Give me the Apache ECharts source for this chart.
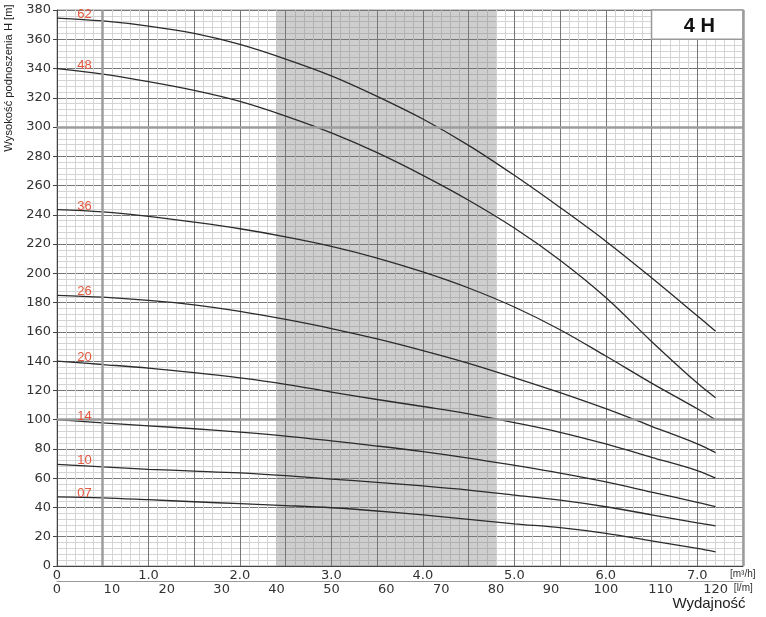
<!DOCTYPE html>
<html>
<head>
<meta charset="utf-8">
<script src="https://cdn.jsdelivr.net/npm/echarts@6/dist/echarts.min.js"></script>
<style>html,body{margin:0;padding:0;background:#fff}#c{width:766px;height:617px}</style>
</head>
<body>
<div id="c"></div>
<script>
// Flow points (m³/h) at which heads were read
const flowQ = [0, 0.5, 1.0, 1.5, 2.0, 2.5, 3.0, 3.5, 4.0, 4.5, 5.0, 5.5, 6.0, 6.5, 7.0, 7.2];
// Head H [m] for each pump variant
const h62 = [374.5, 372.5, 369, 364, 356.5, 346.5, 335, 321, 305.5, 287.5, 267, 245, 222, 197, 171, 160.5];
const h48 = [340, 336.2, 331, 325, 317.5, 307.5, 296, 282.5, 267, 250, 231, 209, 183.5, 153.5, 125, 115];
const h36 = [243.5, 242, 239, 235, 230.5, 225, 218.5, 210.5, 201, 190, 177, 161.5, 143.5, 125, 107.5, 100];
const h26 = [185, 183.7, 181.5, 178.5, 174, 168.5, 162.3, 155.2, 147.2, 138.5, 128.7, 118.5, 107.5, 95.5, 83.5, 77.5];
const h20 = [140, 137.7, 135.3, 132.2, 128.6, 124.2, 118.8, 113.8, 109, 104, 98, 91.4, 83.4, 74.3, 65.2, 60];
const h14 = [100, 97.8, 95.8, 93.8, 91.5, 88.8, 85.5, 82, 78.2, 73.8, 68.8, 63.5, 57.5, 50.5, 43.5, 40.5];
const h10 = [69.5, 67.7, 66.1, 64.9, 63.6, 61.7, 59.4, 57.2, 54.7, 51.9, 48.5, 45, 40.5, 35, 29.4, 27.4];
const h07 = [47.3, 46.6, 45.3, 43.9, 42.6, 41.3, 39.8, 37.6, 34.9, 31.9, 28.8, 26.2, 22.3, 17.2, 12, 9.7];
const curveNames = ['62', '48', '36', '26', '20', '14', '10', '07'];
const curveHeads = [h62, h48, h36, h26, h20, h14, h10, h07];
// Axes
const yMin = 0, yMax = 380, yStep = 20;
const qMax = 7.5, qStep = 0.5;            // m³/h
const lpmMax = 125, lpmStep = 10;         // l/min
const thickH = [100, 300];
const thickQ = [0.5, 7.5];
const bandLpm = [40, 80];                 // shaded recommended range, l/min
const labelQ = 0.3;
const modelTitle = '4 H';
const yTitle = 'Wysokość podnoszenia H [m]';
const xTitle = 'Wydajność';
const qUnit = '[m³/h]';
const lpmUnit = '[l/m]';

const LPM_TO_M3H = 0.06;
const numFont = 'DejaVu Sans';
const txtFont = 'Liberation Sans';

const chart = echarts.init(document.getElementById('c'), null, {renderer: 'canvas'});

const curveSeries = curveNames.map((name, k) => ({
  type: 'line',
  name: name,
  data: flowQ.map((q, i) => [q, curveHeads[k][i]]),
  showSymbol: false,
  smooth: 0.35,
  silent: true,
  z: 3,
  lineStyle: {color: '#2b2b2b', width: 1.3},
  itemStyle: {color: '#2b2b2b'},
  markPoint: {
    silent: true,
    symbol: 'circle',
    symbolSize: 0,
    label: {
      show: true, position: 'top', distance: 0, offset: [0, 3], formatter: name,
      color: '#e4573d', fontSize: 13, fontFamily: txtFont
    },
    data: [{coord: [labelQ, curveHeads[k][0]]}]
  }
}));

const helperSeries = {
  type: 'line',
  data: [],
  silent: true,
  z: 1,
  markArea: {
    silent: true,
    data: [
      [{xAxis: bandLpm[0] * LPM_TO_M3H, yAxis: yMin, itemStyle: {color: 'rgba(120,120,120,0.36)'}},
       {xAxis: bandLpm[1] * LPM_TO_M3H, yAxis: yMax}],
      [{xAxis: 6.5, yAxis: yMax,
        itemStyle: {color: '#ffffff', borderColor: '#9a9a9a', borderWidth: 1.5},
        label: {show: true, position: 'inside', formatter: modelTitle, color: '#111',
                fontSize: 20, fontWeight: 'bold', fontFamily: txtFont, offset: [2, 2]}},
       {xAxis: qMax, yAxis: 360}]
    ]
  },
  markLine: {
    silent: true,
    symbol: 'none',
    label: {show: false},
    lineStyle: {color: '#9c9c9c', width: 2.5, type: 'solid'},
    data: thickH.map(v => ({yAxis: v})).concat(thickQ.map(v => ({xAxis: v})))
  }
};

chart.setOption({
  animation: false,
  backgroundColor: '#ffffff',
  grid: {left: 57, right: 23, top: 10, bottom: 51, show: true, borderColor: '#999', borderWidth: 1},
  xAxis: [
    {
      type: 'value', min: 0, max: qMax, interval: qStep, position: 'bottom',
      axisLine: {show: true, onZero: false, lineStyle: {color: '#444'}},
      axisTick: {show: false},
      axisLabel: {
        formatter: v => v === 0 ? '0' : (Math.abs(v - Math.round(v)) < 1e-9 && v < qMax ? v.toFixed(1) : ''),
        fontFamily: numFont, fontSize: 13, color: '#333', margin: 3
      },
      splitLine: {show: true, lineStyle: {color: '#777', width: 1}},
      minorTick: {show: false, splitNumber: 5},
      minorSplitLine: {show: true, lineStyle: {color: '#d4d4d4', width: 1}},
      name: qUnit, nameLocation: 'end', nameGap: -13,
      nameTextStyle: {fontFamily: txtFont, fontSize: 10, color: '#333', align: 'left', verticalAlign: 'top', padding: [3, 0, 0, 0]}
    },
    {
      type: 'value', min: 0, max: lpmMax, interval: lpmStep, position: 'bottom', offset: 15,
      axisLine: {show: true, onZero: false, lineStyle: {color: '#999'}},
      axisTick: {show: false},
      axisLabel: {
        formatter: v => v <= 120 ? String(v) : '',
        fontFamily: numFont, fontSize: 13, color: '#333', margin: 2
      },
      splitLine: {show: false},
      name: lpmUnit, nameLocation: 'end', nameGap: -10,
      nameTextStyle: {fontFamily: txtFont, fontSize: 10, color: '#333', align: 'left', verticalAlign: 'top', padding: [2, 0, 0, 0]}
    }
  ],
  yAxis: {
    type: 'value', min: yMin, max: yMax, interval: yStep,
    axisLine: {show: true, lineStyle: {color: '#444'}},
    axisTick: {show: true, length: 4, lineStyle: {color: '#444'}},
    axisLabel: {fontFamily: numFont, fontSize: 13, color: '#333', margin: 6},
    splitLine: {show: true, lineStyle: {color: '#777', width: 1}},
    minorTick: {show: false, splitNumber: 5},
    minorSplitLine: {show: true, lineStyle: {color: '#d4d4d4', width: 1}}
  },
  graphic: [
    {type: 'text', x: 9, y: 78, rotation: Math.PI / 2,
     style: {text: yTitle, fontSize: 11.2, fontFamily: txtFont, fill: '#222', align: 'center', verticalAlign: 'middle', textAlign: 'center', textVerticalAlign: 'middle'}},
    {type: 'text', x: 709, y: 604,
     style: {text: xTitle, fontSize: 15, fontFamily: txtFont, fill: '#222', align: 'center', verticalAlign: 'middle', textAlign: 'center', textVerticalAlign: 'middle'}}
  ],
  series: [helperSeries].concat(curveSeries)
});
</script>
</body>
</html>
